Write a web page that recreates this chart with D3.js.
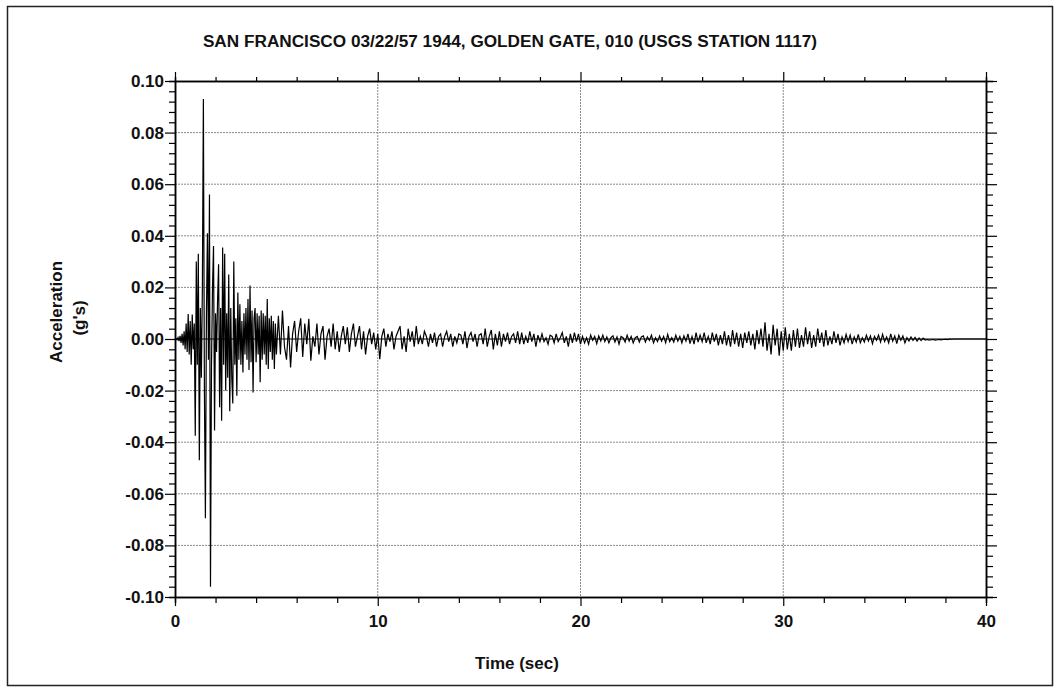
<!DOCTYPE html>
<html>
<head>
<meta charset="utf-8">
<script src="https://cdn.jsdelivr.net/npm/d3@7"></script>
<style>
  body { margin: 0; background: #fff; }
  text { font-family: Arial, "Liberation Sans", sans-serif; font-weight: bold; fill: #111; }
</style>
</head>
<body>
<div id="chart"></div>
<script>
var svgWidth = 1060;
var svgHeight = 691;

var margin = { top: 81, right: 74, bottom: 94, left: 175 };
var width = 986 - margin.left;
var height = 597 - margin.top;

var title = "SAN FRANCISCO 03/22/57 1944, GOLDEN GATE, 010 (USGS STATION 1117)";

// tick values
var xMajor = [0, 10, 20, 30, 40];
var xMinor = [2, 4, 6, 8, 12, 14, 16, 18, 22, 24, 26, 28, 32, 34, 36, 38];
var yMajor = [-0.10, -0.08, -0.06, -0.04, -0.02, 0.00, 0.02, 0.04, 0.06, 0.08, 0.10];
var yMinor = [-0.096, -0.092, -0.088, -0.084, -0.076, -0.072, -0.068, -0.064,
  -0.056, -0.052, -0.048, -0.044, -0.036, -0.032, -0.028, -0.024,
  -0.016, -0.012, -0.008, -0.004, 0.004, 0.008, 0.012, 0.016,
  0.024, 0.028, 0.032, 0.036, 0.044, 0.048, 0.052, 0.056,
  0.064, 0.068, 0.072, 0.076, 0.084, 0.088, 0.092, 0.096];

// acceleration (g), 0.00 - 5.00 s sampled every 0.05 s (one row per second)
var accelEarly = [
  0, 0.0002, -0.0003, 0.0006, -0.0008, 0.0012, -0.0015, 0.002, -0.0025, 0.003, -0.004, 0.006, -0.005, 0.0097, -0.006, 0.007, -0.010, 0.0095, -0.004, 0.006,
  -0.0375, 0.03, -0.01, 0.033, -0.047, 0.012, -0.015, 0.02, 0.093, -0.02, -0.0695, 0.01, 0.041, -0.008, 0.056, -0.096, -0.01, 0.02, 0.036, -0.0355,
  0.01, -0.005, 0.015, 0.029, -0.0265, 0.012, -0.0317, 0.0355, -0.01, 0.033, -0.02, 0.01, -0.015, 0.025, -0.028, 0.012, -0.015, -0.025, 0.030, -0.01,
  0.008, -0.022, 0.018, -0.008, 0.0135, -0.01, 0.007, -0.013, 0.01, -0.006, 0.012, -0.008, 0.0155, -0.012, 0.0207, -0.009, 0.011, -0.0207, 0.008, 0.012,
  -0.009, 0.01, -0.006, 0.009, -0.0168, 0.011, -0.008, 0.01, -0.006, 0.009, -0.01, 0.0155, -0.0116, 0.008, -0.005, 0.009, -0.008, 0.007, -0.0116, 0.006,
  -0.006
];

// acceleration (g), 5.1 - 40.0 s sampled every 0.1 s (one row per second)
var accelLate = [
  0.009, -0.006, 0.011, -0.003, -0.008, 0.005, -0.011, 0.002, 0.007, -0.005,
  0.003, 0.008, -0.007, 0.006, -0.002, 0.0078, -0.0084, 0.001, -0.003, 0.006,
  -0.006, 0.002, 0.005, -0.008, 0.001, 0.004, -0.003, 0.006, -0.004, 0.003,
  -0.005, 0.001, 0.005, -0.002, 0.0045, -0.005, 0.002, 0.006, -0.003, 0.001,
  0.005, -0.004, 0.003, -0.006, 0.001, 0.004, -0.002, 0.0025, -0.004, 0.002,
  -0.0078, 0.001, 0.004, -0.003, 0.002, -0.001, 0.003, -0.004, 0.001, 0.003,
  0.005, -0.004, 0.001, -0.005, 0.004, -0.001, 0.003, -0.003, 0.005, -0.002,
  0.001, -0.002, 0.003, 0.001, -0.003, 0.002, -0.0015, 0.0025, -0.003, 0.001,
  0.002, -0.003, 0.001, 0.003, -0.001, 0.002, -0.003, 0.001, -0.0015, 0.002,
  0.0015, -0.002, 0.003, -0.0035, 0.001, 0.0025, -0.001, 0.002, -0.003, 0.0015,
  0.002, -0.002, 0.004, -0.003, 0.001, 0.0035, -0.004, 0.002, -0.0025, 0.003,
  -0.003, 0.002, -0.001, 0.0025, -0.002, 0.001, 0.002, -0.0015, 0.003, -0.002,
  0.0025, -0.002, 0.001, -0.0015, 0.003, -0.001, 0.002, -0.003, 0.0015, -0.001,
  0.002, -0.001, 0.0005, -0.002, 0.0015, 0.001, -0.0015, 0.002, -0.001, 0.0005,
  0.0025, -0.0015, 0.001, -0.003, 0.002, -0.0015, 0.0025, -0.001, 0.002, -0.002,
  0.001, -0.0015, 0.0005, -0.002, 0.0015, -0.0005, 0.001, -0.0018, 0.0012, -0.0008,
  0.0015, -0.001, 0.0008, -0.0015, 0.0005, 0.0012, -0.0012, 0.0008, -0.002, 0.001,
  0.0005, -0.0012, 0.0015, -0.0008, 0.001, -0.0015, 0.0005, 0.001, -0.0012, 0.0008,
  0.0012, -0.0012, 0.0008, -0.0005, 0.0015, -0.0015, 0.0005, -0.001, 0.0012, -0.0008,
  0.001, -0.0015, 0.0018, -0.001, 0.0005, -0.0012, 0.0015, -0.0008, 0.001, -0.0015,
  0.0012, -0.0008, 0.002, -0.0018, 0.001, -0.002, 0.0025, -0.0012, 0.0015, -0.001,
  0.0025, -0.0015, 0.001, -0.002, 0.0025, -0.001, 0.002, -0.0025, 0.0015, -0.002,
  0.003, -0.0025, 0.0015, -0.003, 0.0035, -0.002, 0.0025, -0.003, 0.002, -0.0035,
  0.0025, -0.0015, 0.003, -0.0025, 0.002, -0.004, 0.0035, -0.002, 0.004, -0.003,
  0.0065, -0.0045, 0.002, -0.006, 0.0055, -0.0025, 0.004, -0.0065, 0.003, -0.0045,
  0.0045, -0.004, 0.002, -0.0045, 0.0035, -0.003, 0.004, -0.0035, 0.0015, -0.003,
  0.0045, -0.002, 0.003, -0.0035, 0.0015, -0.003, 0.004, -0.0015, 0.0025, -0.003,
  0.0035, -0.0025, 0.001, -0.002, 0.003, -0.0015, 0.002, -0.0025, 0.0008, -0.0015,
  0.0018, -0.001, 0.0015, -0.002, 0.0008, -0.0012, 0.0018, -0.0015, 0.0005, -0.0012,
  0.0015, -0.0008, 0.0012, -0.0018, 0.001, -0.0005, 0.0015, -0.0012, 0.0018, -0.001,
  0.0008, -0.0015, 0.002, -0.0008, 0.0012, -0.0018, 0.0015, -0.0005, 0.0012, -0.0015,
  0.0005, -0.0008, 0.0008, -0.0005, 0.0006, -0.0008, 0.0004, -0.0006, 0.0003, -0.0004,
  -0.0002, -0.0004, -0.0003, -0.0002, -0.0004, -0.0003, -0.0002, -0.0003, -0.0002, -0.0001,
  -0.0002, 0, -0.0001, 0, 0, 0, 0, 0, 0, 0,
  0, 0, 0, 0, 0, 0, 0, 0, 0, 0
];

// sample times from the two sampling rates
var series = [];
accelEarly.forEach(function(a, i) { series.push({ t: i * 0.05, a: a }); });
accelLate.forEach(function(a, i) { series.push({ t: 5.1 + i * 0.1, a: a }); });

var svg = d3.select("#chart")
  .append("svg")
  .attr("width", svgWidth)
  .attr("height", svgHeight);

// outer frame
svg.append("rect")
  .attr("x", 7.5)
  .attr("y", 6.5)
  .attr("width", 1045)
  .attr("height", 679)
  .attr("fill", "none")
  .attr("stroke", "#222")
  .attr("stroke-width", 1.5);

var chartGroup = svg.append("g")
  .attr("transform", `translate(${margin.left}, ${margin.top})`);

var xScale = d3.scaleLinear().domain([0, 40]).range([0, width]);
var yScale = d3.scaleLinear().domain([-0.10, 0.10]).range([height, 0]);

// hyphen minus like the original, not the unicode minus
var yFormat = d => d3.format(".2f")(d).replace("\u2212", "-");

// grid lines
chartGroup.append("g")
  .selectAll("line")
  .data(yMajor.filter(d => Math.abs(d) < 0.099))
  .enter()
  .append("line")
  .attr("x1", 0)
  .attr("x2", width)
  .attr("y1", d => yScale(d))
  .attr("y2", d => yScale(d))
  .attr("stroke", d => d === 0 ? "#000" : "#8a8a8a")
  .attr("stroke-dasharray", d => d === 0 ? null : "2,1");

chartGroup.append("g")
  .selectAll("line")
  .data(xMajor.filter(d => d > 0 && d < 40))
  .enter()
  .append("line")
  .attr("x1", d => xScale(d))
  .attr("x2", d => xScale(d))
  .attr("y1", 0)
  .attr("y2", height)
  .attr("stroke", "#8a8a8a")
  .attr("stroke-dasharray", "2,1");

// trace
var line = d3.line()
  .x(d => xScale(d.t))
  .y(d => yScale(d.a));

chartGroup.append("path")
  .datum(series)
  .attr("d", line)
  .attr("fill", "none")
  .attr("stroke", "#000")
  .attr("stroke-width", 1.2);

// axes
function styleAxis(g) {
  g.select(".domain").attr("stroke", "#000").attr("stroke-width", 1.5);
  g.selectAll(".tick line").attr("stroke", "#000").attr("stroke-width", 1.2);
  g.selectAll("text").style("font-size", "17px").style("font-weight", "bold").attr("fill", "#111");
}

// left
chartGroup.append("g")
  .call(d3.axisLeft(yScale).tickValues(yMinor).tickSize(6).tickFormat(""))
  .call(styleAxis);
chartGroup.append("g")
  .call(d3.axisLeft(yScale).tickValues(yMajor).tickSize(10).tickSizeOuter(0).tickPadding(1).tickFormat(yFormat))
  .call(styleAxis);

// right
chartGroup.append("g")
  .attr("transform", `translate(${width}, 0)`)
  .call(d3.axisRight(yScale).tickValues(yMinor).tickSize(7).tickFormat(""))
  .call(styleAxis);
chartGroup.append("g")
  .attr("transform", `translate(${width}, 0)`)
  .call(d3.axisRight(yScale).tickValues(yMajor).tickSize(11).tickSizeOuter(0).tickFormat(""))
  .call(styleAxis);

// top
chartGroup.append("g")
  .call(d3.axisTop(xScale).tickValues(xMinor).tickSize(4).tickFormat(""))
  .call(styleAxis);
chartGroup.append("g")
  .call(d3.axisTop(xScale).tickValues(xMajor).tickSize(9).tickSizeOuter(0).tickFormat(""))
  .call(styleAxis);

// bottom
chartGroup.append("g")
  .attr("transform", `translate(0, ${height})`)
  .call(d3.axisBottom(xScale).tickValues(xMinor).tickSize(6).tickFormat(""))
  .call(styleAxis);
chartGroup.append("g")
  .attr("transform", `translate(0, ${height})`)
  .call(d3.axisBottom(xScale).tickValues(xMajor).tickSize(9).tickSizeOuter(0).tickPadding(9).tickFormat(d3.format("d")))
  .call(styleAxis);

// title and axis labels
svg.append("text")
  .attr("x", 510)
  .attr("y", 47)
  .attr("text-anchor", "middle")
  .style("font-size", "17.2px")
  .text(title);

svg.append("text")
  .attr("transform", "translate(62, 312) rotate(-90)")
  .attr("text-anchor", "middle")
  .style("font-size", "17px")
  .text("Acceleration");

svg.append("text")
  .attr("transform", "translate(85, 318) rotate(-90)")
  .attr("text-anchor", "middle")
  .style("font-size", "17px")
  .text("(g's)");

svg.append("text")
  .attr("x", 517)
  .attr("y", 669)
  .attr("text-anchor", "middle")
  .style("font-size", "17px")
  .text("Time (sec)");
</script>
</body>
</html>
